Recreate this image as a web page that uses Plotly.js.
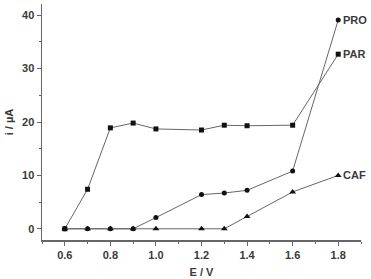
<!DOCTYPE html>
<html><head><meta charset="utf-8">
<script src="https://cdn.plot.ly/plotly-3.0.1.min.js"></script>
<style>html,body{margin:0;padding:0;background:#fff}#c{width:371px;height:279px}</style>
</head><body><div id="c"></div>
<script>
const potentials = [0.6, 0.7, 0.8, 0.9, 1.0, 1.2, 1.3, 1.4, 1.6, 1.8];
const PRO = [0, 0, 0, 0, 2.1, 6.4, 6.7, 7.2, 10.8, 39.1];
const PAR = [0, 7.4, 18.9, 19.8, 18.7, 18.5, 19.4, 19.3, 19.4, 32.7];
const CAF = [0, 0, 0, 0, 0, 0, 0, 2.3, 6.9, 10.0];
const seriesNames = ['PRO', 'PAR', 'CAF'];
const xTicks = [0.6, 0.8, 1.0, 1.2, 1.4, 1.6, 1.8];
const xTickText = ['0.6', '0.8', '1.0', '1.2', '1.4', '1.6', '1.8'];
const yTicks = [0, 10, 20, 30, 40];

const lineCol = '#666';
const font = {family: 'Liberation Sans, Arial, sans-serif', size: 11, color: '#3a3a3a', weight: 'bold'};
const symbols = ['circle', 'square', 'triangle-up'];
const data = [PRO, PAR, CAF].map((ys, i) => ({
  x: potentials, y: ys, type: 'scatter', mode: 'lines+markers',
  name: seriesNames[i],
  line: {color: lineCol, width: 1},
  marker: {symbol: symbols[i], size: i === 2 ? 6 : 5, color: '#111'},
  cliponaxis: false
}));

const annotations = [PRO, PAR, CAF].map((ys, i) => ({
  x: potentials[potentials.length - 1], y: ys[ys.length - 1],
  xref: 'x', yref: 'y', text: '<b>' + seriesNames[i] + '</b>',
  showarrow: false, xanchor: 'left', xshift: 3, yshift: 0,
  font: {family: font.family, size: 11, color: '#3a3a3a'}
}));

const layout = {
  width: 371, height: 279,
  margin: {l: 42, r: 10, t: 4, b: 39},
  paper_bgcolor: '#fff', plot_bgcolor: '#fff',
  showlegend: false,
  font: font,
  annotations: annotations,
  xaxis: {
    range: [0.5, 1.9], tickvals: xTicks, ticktext: xTickText,
    showgrid: false, zeroline: false, showline: true, linecolor: '#666', linewidth: 1.5,
    ticks: 'outside', ticklen: 4, tickwidth: 1, tickcolor: '#666',
    minor: {dtick: 0.1, tick0: 0.5, ticks: 'outside', ticklen: 2, tickcolor: '#666', showgrid: false},
    tickfont: font,
    title: {text: '<b>E / V</b>', font: font, standoff: 8}
  },
  yaxis: {
    range: [-2.1, 42.1], tickvals: yTicks,
    showgrid: false, zeroline: false, showline: true, linecolor: '#666', linewidth: 1.5,
    ticks: 'outside', ticklen: 4, tickwidth: 1, tickcolor: '#666',
    minor: {dtick: 5, tick0: 0, ticks: 'outside', ticklen: 2, tickcolor: '#666', showgrid: false},
    tickfont: font,
    title: {text: '<b>i / µA</b>', font: font, standoff: 6}
  }
};
Plotly.newPlot('c', data, layout, {displayModeBar: false, staticPlot: true});
</script></body></html>
